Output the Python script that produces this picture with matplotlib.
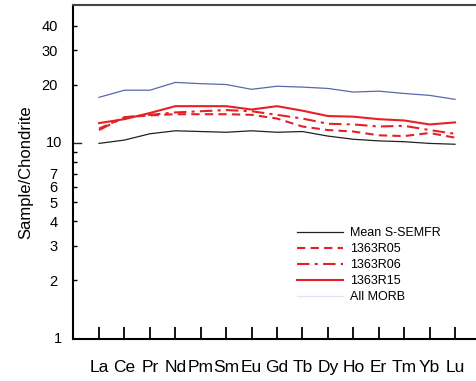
import matplotlib
matplotlib.use("Agg")
import matplotlib.pyplot as plt
from matplotlib.lines import Line2D
from matplotlib.ticker import FixedLocator, NullFormatter

plt.rcParams['font.family'] = ['Liberation Sans', 'DejaVu Sans']

elements = ["La", "Ce", "Pr", "Nd", "Pm", "Sm", "Eu", "Gd", "Tb", "Dy", "Ho", "Er", "Tm", "Yb", "Lu"]
all_morb = [17.2, 18.7, 18.7, 20.5, 20.2, 20.0, 18.9, 19.6, 19.4, 19.1, 18.3, 18.5, 18.0, 17.6, 16.8]
mean_ssemfr = [10.0, 10.4, 11.2, 11.6, 11.5, 11.4, 11.6, 11.4, 11.5, 10.9, 10.5, 10.3, 10.2, 10.0, 9.9]
r15 = [12.7, 13.3, 14.3, 15.5, 15.5, 15.5, 14.9, 15.5, 14.7, 13.8, 13.7, 13.3, 13.1, 12.5, 12.8]
r06 = [11.7, 13.6, 14.0, 14.4, 14.6, 14.8, 14.6, 14.0, 13.4, 12.6, 12.5, 12.2, 12.3, 11.7, 11.2]
r05 = [11.9, 13.6, 13.9, 14.1, 14.1, 14.1, 14.0, 13.4, 12.2, 11.7, 11.5, 11.0, 10.9, 11.3, 10.7]
labels = ["Mean S-SEMFR", "1363R05", "1363R06", "1363R15", "All MORB"]
major_ticks = [2, 3, 4, 5, 6, 7, 20, 30, 40]
tick_labels_y = ["2", "3", "4", "5", "6", "7", "20", "30", "40"]

W, H = 476, 381
fig = plt.figure(figsize=(W / 100, H / 100), dpi=100)
left_px, right_px, bottom_px, top_px = 73, 505, 339, 5
ax = fig.add_axes([left_px / W, 1 - bottom_px / H, (right_px - left_px) / W, (bottom_px - top_px) / H])

x = list(range(len(elements)))
red = '#e52128'
ax.plot(x, all_morb, color='#5a68a8', lw=0.9)
ax.plot(x, mean_ssemfr, color='#222222', lw=0.9)
ax.plot(x, r05, color=red, lw=1.5, ls=(0, (4, 2.5)))
ax.plot(x, r06, color=red, lw=1.5, ls=(0, (6, 2.5, 1.5, 2.5)))
ax.plot(x, r15, color=red, lw=1.5)

ax.set_yscale('log')
ax.set_ylim(1, 51)
spacing = 25.43
ax.set_xlim(-(99 - left_px) / spacing, (right_px - 99) / spacing)

ax.yaxis.set_major_locator(FixedLocator(major_ticks))
ax.yaxis.set_major_formatter(plt.FixedFormatter(tick_labels_y))
ax.yaxis.set_minor_locator(FixedLocator([8, 9]))
ax.yaxis.set_minor_formatter(NullFormatter())
ax.tick_params(axis='y', which='both', direction='in', length=3, width=1.0, labelsize=10.5, pad=11)
for v, lab in [(1, "1"), (10, "10")]:
    ax.text(-0.025, v, lab, transform=ax.get_yaxis_transform(), ha='right', va='center', fontsize=10.5)
ax.plot([0, 0.018], [10, 10], transform=ax.get_yaxis_transform(), color='#222222', lw=1.0, clip_on=False)

ax.set_xticks(x)
ax.set_xticklabels(elements, fontsize=12.5)
ax.tick_params(axis='x', direction='in', length=9, width=1.3, pad=15)

ax.spines['right'].set_visible(False)
ax.spines['top'].set_color('#444444')
for s in ['top', 'left', 'bottom']:
    ax.spines[s].set_linewidth(1.5)

ax.set_ylabel("Sample/Chondrite", fontsize=12)
ax.yaxis.set_label_coords(-(73 - 33) / (right_px - left_px), 0.5)

handles = [
    Line2D([], [], color='#222222', lw=0.9),
    Line2D([], [], color=red, lw=1.5, ls=(0, (4, 2.5))),
    Line2D([], [], color=red, lw=1.5, ls=(0, (6, 2.5, 1.5, 2.5))),
    Line2D([], [], color=red, lw=1.5),
    Line2D([], [], color='#dfe3f3', lw=0.9),
]
leg = ax.legend(handles, labels, loc='upper left',
                bbox_to_anchor=((297 - left_px) / (right_px - left_px), 1 - (227 - top_px) / (bottom_px - top_px)),
                frameon=False, fontsize=9, handlelength=3.7, handletextpad=0.55, labelspacing=0.33,
                borderpad=0, borderaxespad=0)

fig.savefig("out.png", dpi=100)
